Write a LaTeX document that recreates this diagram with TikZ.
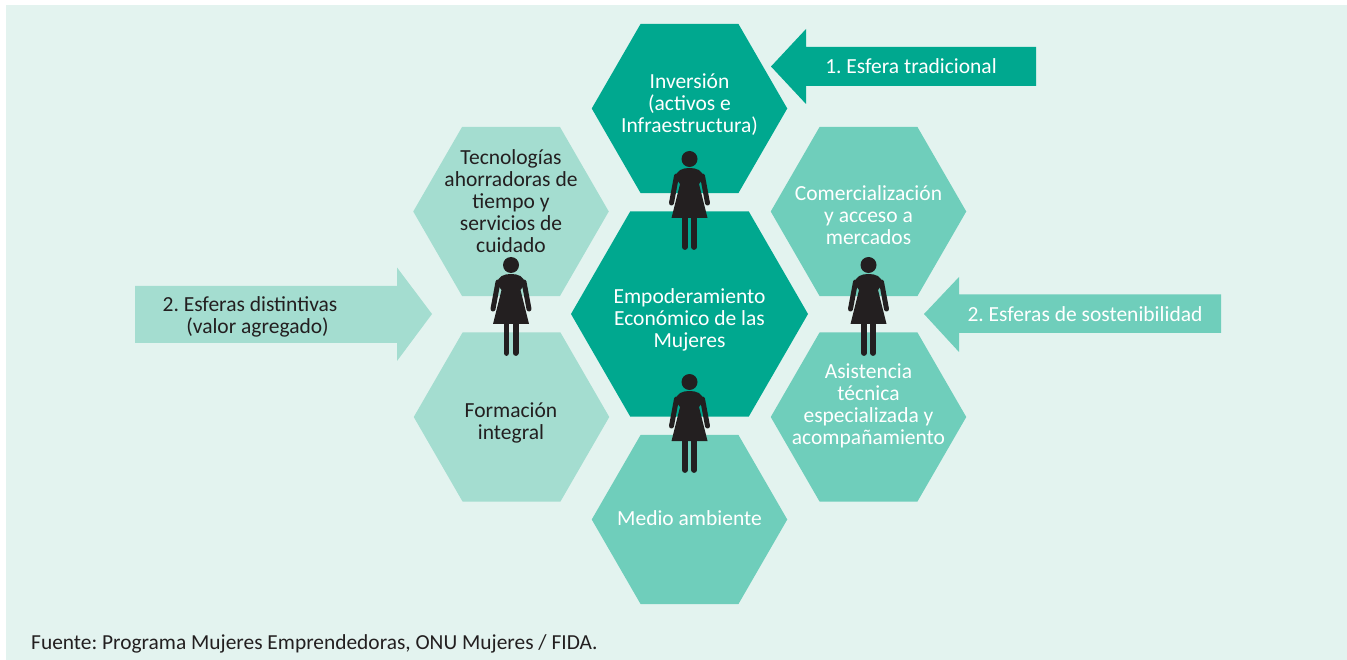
\documentclass[tikz,border=0pt]{standalone}
\usepackage{fontspec}
\setmainfont{Carlito}
\usetikzlibrary{shapes.geometric}
\definecolor{fondo}{HTML}{E3F3EF}
\definecolor{oscuro}{HTML}{00A88F}
\definecolor{medio}{HTML}{6FCEBB}
\definecolor{claro}{HTML}{A4DDD0}
\definecolor{negro}{HTML}{231F20}
\frenchspacing
\tikzset{
	hexa/.style={regular polygon, regular polygon sides=6, minimum size=195.5, inner sep=0, outer sep=0},
	rotulo/.style={align=center, font=\fontsize{21.5}{22}\selectfont, inner sep=0},
	mujer/.pic={
		\fill[negro] (0,0) circle (8);
		\fill[negro] (-14,19) .. controls (-13,11) and (-7,9) .. (0,9) .. controls (7,9) and (13,11) .. (14,19) -- (9.5,25) -- (18,59) -- (-18,59) -- (-9.5,25) -- cycle;
		\draw[negro, line width=5, line cap=round] (-13,17) -- (-18,44);
		\draw[negro, line width=5, line cap=round] (13,17) -- (18,44);
		\draw[negro, line width=5.8, line cap=round] (-4.6,58) -- (-4.6,88);
		\draw[negro, line width=5.8, line cap=round] (4.6,58) -- (4.6,88);
	}
}
\begin{document}
\begin{tikzpicture}[x=1pt, y=-1pt]
	\useasboundingbox (0,0) rectangle (1347,660);
	\fill[fondo] (6,5) rectangle (1347,660);
	% hexagonos
	\node[hexa, fill=oscuro] (inversion) at (689.5,108.5) {};
	\node[hexa, fill=claro] (tecnologias) at (511,211.5) {};
	\node[hexa, fill=medio] (comercio) at (868.5,211.5) {};
	\node[hexa, fill=oscuro, minimum size=237] (centro) at (689.5,314) {};
	\node[hexa, fill=claro] (formacion) at (511.5,417) {};
	\node[hexa, fill=medio] (asistencia) at (868.5,417) {};
	\node[hexa, fill=medio] (ambiente) at (689.5,519.5) {};
	% flechas
	\fill[oscuro] (771,66.5) -- (806,29) -- (806,47) -- (1036,47) -- (1036,86) -- (806,86) -- (806,104) -- cycle;
	\fill[medio] (924,314) -- (959,277) -- (959,294.5) -- (1221,294.5) -- (1221,333) -- (959,333) -- (959,352) -- cycle;
	\fill[claro] (432,314) -- (397,267.5) -- (397,286) -- (135,286) -- (135,343) -- (397,343) -- (397,361) -- cycle;
	% mujeres
	\pic at (689.5,159) {mujer};
	\pic at (511,265) {mujer};
	\pic at (868.5,265) {mujer};
	\pic at (689.5,382) {mujer};
	% textos
	\node[rotulo, text=white] (tinversion) at (689.5,105) {Inversión\\(activos e\\Infraestructura)};
	\node[rotulo, text=negro] (ttecnologias) at (511,201.5) {Tecnologías\\ahorradoras de\\tiempo y\\servicios de\\cuidado};
	\node[rotulo, text=white] (tcomercio) at (868.5,215.5) {Comercialización\\y acceso a\\mercados};
	\node[rotulo, text=white] (tcentro) at (689.5,320) {Empoderamiento\\Económico de las\\Mujeres};
	\node[rotulo, text=negro] (tformacion) at (511,423) {Formación\\integral};
	\node[rotulo, text=white] (tasistencia) at (868.5,406) {Asistencia\\técnica\\especializada y\\acompañamiento};
	\node[rotulo, text=white] (tambiente) at (689.5,518.5) {Medio ambiente};
	\node[rotulo, text=white] (ttradicional) at (911,66) {1. Esfera tradicional};
	\node[rotulo, text=white] (tsostenible) at (1085,314) {2. Esferas de sostenibilidad};
	\node[rotulo, text=negro] (tdistintivas) at (250,317) {2. Esferas distintivas\\\hspace*{15pt}(valor agregado)};
	\node[rotulo, text=negro, anchor=west, font=\fontsize{21.4}{22}\selectfont] (fuente) at (31,643.5) {Fuente: Programa Mujeres Emprendedoras, ONU Mujeres / FIDA.};
\end{tikzpicture}
\end{document}
